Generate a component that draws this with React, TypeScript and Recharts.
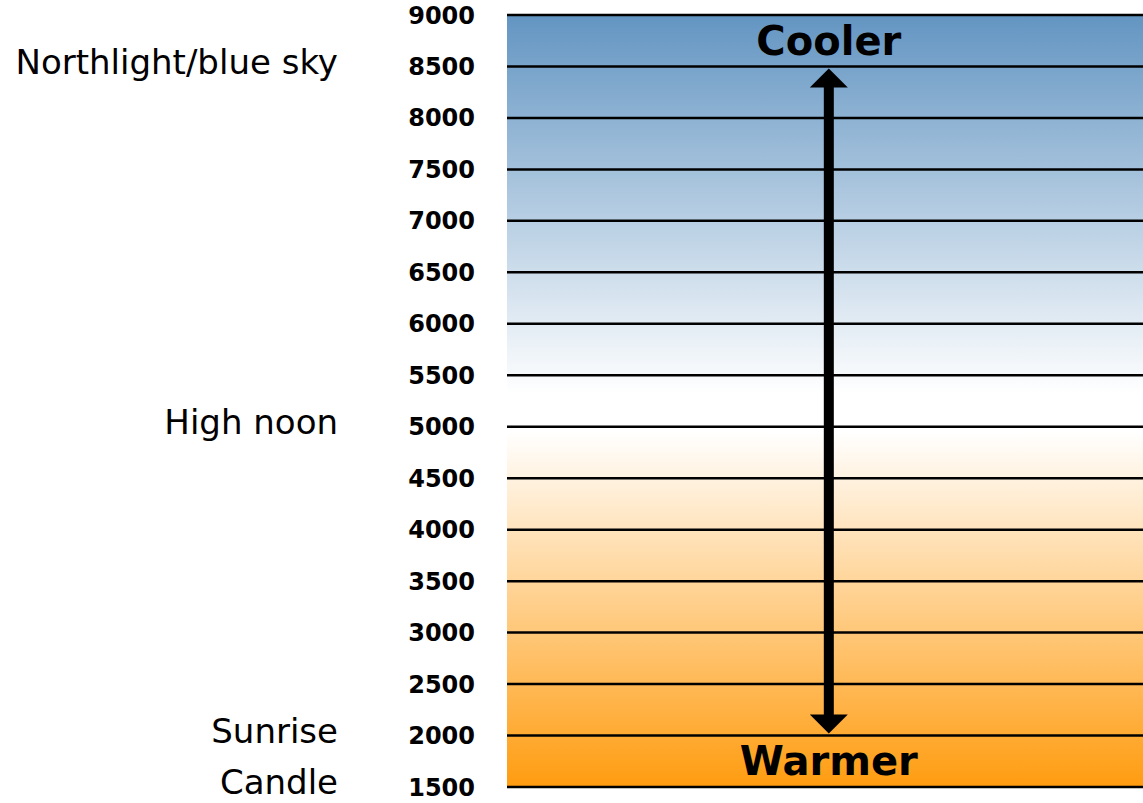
import {
  ComposedChart,
  CartesianGrid,
  XAxis,
  YAxis,
  Line,
  ReferenceLine,
  ReferenceDot
} from "recharts";

const kelvinTicks = [1500, 2000, 2500, 3000, 3500, 4000, 4500, 5000, 5500, 6000, 6500, 7000, 7500, 8000, 8500, 9000];
const sourceTicks = [1500, 2000, 5000, 8500];
const sourceNames = ["Candle", "Sunrise", "High noon", "Northlight/blue sky"];
const arrowEnds = [8500, 2000];
const directionLabels = [
  { y: 8750, text: "Cooler" },
  { y: 1750, text: "Warmer" }
];
const arrowX = 0.506;

const arrowData = arrowEnds.map((kelvin) => ({ x: arrowX, kelvin }));

const FONT = "'DejaVu Sans', sans-serif";

function sourceLabel(value: number): string {
  const i = sourceTicks.indexOf(value);
  return i >= 0 ? sourceNames[i] : "";
}

function DoubleArrow(props: any) {
  const { x1, y1, x2, y2 } = props;
  const cx = (x1 + x2) / 2;
  const top = Math.min(y1, y2) + 2;
  const bottom = Math.max(y1, y2) - 2;
  const head = 19;
  const half = 5;
  const pts = [
    [cx, top],
    [cx + head, top + head],
    [cx + half, top + head],
    [cx + half, bottom - head],
    [cx + head, bottom - head],
    [cx, bottom],
    [cx - head, bottom - head],
    [cx - half, bottom - head],
    [cx - half, top + head],
    [cx - head, top + head]
  ]
    .map((p) => p.join(","))
    .join(" ");
  return <polygon points={pts} fill="#000" />;
}

export default function App() {
  return (
    <div style={{ position: "absolute", left: 0, top: 0 }}>
      <ComposedChart
        width={1143}
        height={803}
        data={arrowData}
        margin={{ top: 15, right: 0, bottom: 16, left: 0 }}
      >
        <defs>
          <linearGradient id="kelvinFill" x1="0" y1="0" x2="0" y2="1">
            <stop offset="0" stopColor="#6395c2" />
            <stop offset="0.49" stopColor="#ffffff" />
            <stop offset="0.54" stopColor="#ffffff" />
            <stop offset="1" stopColor="#ff9c10" />
          </linearGradient>
        </defs>
        <XAxis type="number" dataKey="x" domain={[0, 1]} hide />
        <YAxis
          yAxisId="source"
          type="number"
          domain={[1500, 9000]}
          ticks={sourceTicks}
          interval={0}
          width={367}
          axisLine={false}
          tickLine={false}
          tickSize={0}
          tickMargin={29}
          tickFormatter={sourceLabel}
          tick={{ fill: "#000", fontSize: 34, fontFamily: FONT, dy: -5 }}
        />
        <YAxis
          type="number"
          domain={[1500, 9000]}
          ticks={kelvinTicks}
          interval={0}
          width={140}
          axisLine={false}
          tickLine={false}
          tickSize={0}
          tickMargin={32}
          tick={{ fill: "#000", fontSize: 24, fontWeight: 700, fontFamily: FONT }}
        />
        <CartesianGrid
          vertical={false}
          fill="url(#kelvinFill)"
          fillOpacity={1}
          stroke="#000"
          strokeWidth={2.5}
          strokeOpacity={1}
        />
        <Line
          dataKey="kelvin"
          stroke="none"
          dot={false}
          activeDot={false}
          isAnimationActive={false}
        />
        <Line
          yAxisId="source"
          dataKey="kelvin"
          stroke="none"
          dot={false}
          activeDot={false}
          isAnimationActive={false}
        />
        <ReferenceLine
          segment={[
            { x: arrowX, y: arrowEnds[0] },
            { x: arrowX, y: arrowEnds[1] }
          ]}
          shape={DoubleArrow}
        />
        {directionLabels.map((d) => (
          <ReferenceDot
            key={d.text}
            x={arrowX}
            y={d.y}
            r={0}
            fill="none"
            stroke="none"
            label={{
              value: d.text,
              position: "center",
              fill: "#000",
              fontSize: 40,
              fontWeight: 700,
              fontFamily: FONT
            }}
          />
        ))}
      </ComposedChart>
    </div>
  );
}
